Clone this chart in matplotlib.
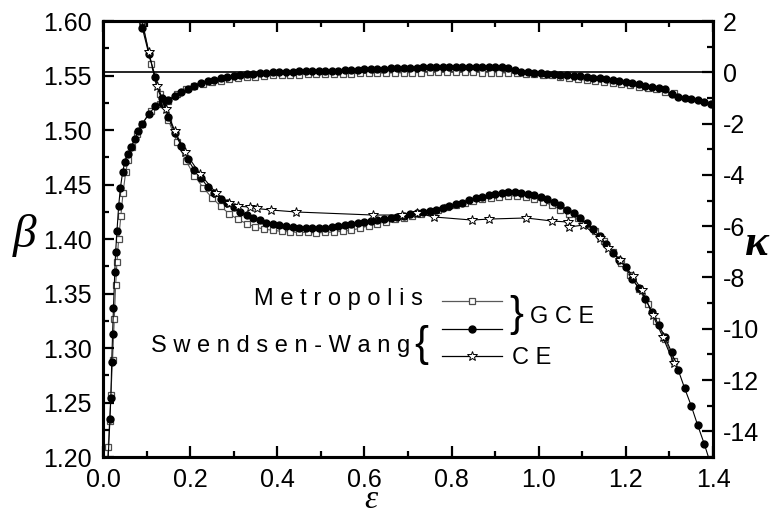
#!/usr/bin/env python3

import matplotlib
matplotlib.use('Agg')
import matplotlib.pyplot as plt
from matplotlib.ticker import MultipleLocator, FormatStrFormatter

# Swendsen-Wang, generalized canonical ensemble (filled circles)
sw_eps = [0.090, 0.105, 0.120, 0.135, 0.150, 0.165, 0.180, 0.195, 0.210, 0.225,
          0.240, 0.255, 0.270, 0.285, 0.300, 0.315, 0.330, 0.345, 0.360, 0.375,
          0.390, 0.405, 0.420, 0.435, 0.450, 0.465, 0.480, 0.495, 0.510, 0.525,
          0.540, 0.555, 0.570, 0.585, 0.600, 0.615, 0.630, 0.645, 0.660, 0.675,
          0.690, 0.705, 0.720, 0.735, 0.750, 0.765, 0.780, 0.795, 0.810, 0.825,
          0.840, 0.855, 0.870, 0.885, 0.900, 0.915, 0.930, 0.945, 0.960, 0.975,
          0.990, 1.005, 1.020, 1.035, 1.050, 1.065, 1.080, 1.095, 1.110, 1.125,
          1.140, 1.155, 1.170, 1.185, 1.200, 1.215, 1.230, 1.245, 1.260, 1.275,
          1.290, 1.305, 1.320, 1.335, 1.350, 1.365, 1.380, 1.395]
sw_beta = [1.594, 1.570, 1.549, 1.529, 1.512, 1.497, 1.485, 1.473, 1.463, 1.456,
           1.448, 1.442, 1.437, 1.433, 1.429, 1.425, 1.422, 1.419, 1.417, 1.415,
           1.414, 1.413, 1.412, 1.411, 1.4105, 1.410, 1.410, 1.410, 1.4102, 1.4108,
           1.4115, 1.4125, 1.4135, 1.4145, 1.4155, 1.4165, 1.4175, 1.4185, 1.4195, 1.4205,
           1.4215, 1.4225, 1.4235, 1.4245, 1.4255, 1.4266, 1.4285, 1.430, 1.4318, 1.4333,
           1.4355, 1.4372, 1.4387, 1.440, 1.4415, 1.4425, 1.443, 1.443, 1.4425, 1.4415,
           1.440, 1.4385, 1.4365, 1.434, 1.431, 1.427, 1.4235, 1.4195, 1.4145, 1.409,
           1.4025, 1.3955, 1.3875, 1.381, 1.374, 1.363, 1.355, 1.345, 1.333, 1.3215,
           1.310, 1.296, 1.280, 1.263, 1.247, 1.229, 1.212, 1.193]
sw_kappa = [-2.02, -1.63, -1.33, -1.20, -1.07, -0.93, -0.78, -0.65, -0.53, -0.43,
            -0.35, -0.29, -0.23, -0.18, -0.14, -0.10, -0.07, -0.05, -0.03, -0.01,
            0.00, 0.01, 0.02, 0.03, 0.04, 0.045, 0.05, 0.055, 0.06, 0.065,
            0.07, 0.08, 0.09, 0.10, 0.11, 0.12, 0.13, 0.14, 0.15, 0.16,
            0.17, 0.18, 0.185, 0.19, 0.195, 0.20, 0.205, 0.21, 0.21, 0.215,
            0.215, 0.215, 0.215, 0.21, 0.21, 0.20, 0.16, 0.08, 0.03, 0.00,
            -0.02, -0.04, -0.06, -0.08, -0.09, -0.11, -0.13, -0.16, -0.18, -0.21,
            -0.23, -0.27, -0.31, -0.35, -0.39, -0.43, -0.47, -0.52, -0.57, -0.62,
            -0.67, -0.85, -0.95, -1.00, -1.04, -1.09, -1.15, -1.24]
# steep start of the kappa curve
sw_eps_low = [0.008, 0.016, 0.018, 0.020, 0.022, 0.024, 0.027, 0.029, 0.032,
              0.036, 0.040, 0.045, 0.050, 0.057, 0.065, 0.073, 0.081]
sw_kappa_low = [-16.5, -13.5, -12.7, -11.3, -10.2, -9.2, -7.8, -7.0, -6.2,
                -5.2, -4.5, -3.9, -3.5, -3.2, -2.9, -2.6, -2.3]

# Metropolis, generalized canonical ensemble (open squares)
met_eps = [0.09, 0.11, 0.13, 0.15, 0.17, 0.19, 0.21, 0.23, 0.25, 0.27,
           0.29, 0.31, 0.33, 0.35, 0.37, 0.39, 0.41, 0.43, 0.45, 0.47,
           0.49, 0.51, 0.53, 0.55, 0.57, 0.59, 0.61, 0.63, 0.65, 0.67,
           0.69, 0.71, 0.73, 0.75, 0.77, 0.79, 0.81, 0.83, 0.85, 0.87,
           0.89, 0.91, 0.93, 0.95, 0.97, 0.99, 1.01, 1.03, 1.05, 1.07,
           1.09, 1.11, 1.13, 1.15, 1.17, 1.19, 1.21, 1.23, 1.25, 1.27,
           1.29, 1.31]
met_beta = [1.601, 1.561, 1.533, 1.509, 1.489, 1.472, 1.458, 1.447, 1.438, 1.430,
            1.423, 1.418, 1.414, 1.411, 1.409, 1.408, 1.407, 1.4065, 1.406, 1.406,
            1.4055, 1.406, 1.4065, 1.407, 1.408, 1.410, 1.412, 1.414, 1.416, 1.418,
            1.419, 1.421, 1.423, 1.425, 1.427, 1.429, 1.431, 1.433, 1.435, 1.4365,
            1.438, 1.439, 1.4395, 1.4395, 1.439, 1.437, 1.434, 1.431, 1.427, 1.423,
            1.419, 1.414, 1.407, 1.398, 1.388, 1.378, 1.367, 1.354, 1.340, 1.325,
            1.308, 1.288]
met_kappa = [-2.00, -1.50, -1.25, -1.10, -0.85, -0.66, -0.53, -0.44, -0.37, -0.32,
             -0.28, -0.24, -0.20, -0.17, -0.14, -0.12, -0.11, -0.10, -0.09, -0.08,
             -0.07, -0.065, -0.06, -0.055, -0.05, -0.045, -0.04, -0.035, -0.03, -0.025,
             -0.02, -0.015, -0.01, -0.005, 0.00, 0.00, 0.00, 0.00, 0.00, -0.01,
             -0.01, -0.02, -0.03, -0.04, -0.05, -0.07, -0.09, -0.12, -0.17, -0.23,
             -0.27, -0.31, -0.35, -0.39, -0.43, -0.47, -0.51, -0.56, -0.61, -0.67,
             -0.75, -0.82]
met_eps_low = [0.007, 0.012, 0.015, 0.018, 0.022, 0.026, 0.029, 0.032, 0.036,
               0.041, 0.046, 0.052, 0.058, 0.066, 0.077]
met_kappa_low = [-16.8, -14.6, -13.6, -12.6, -11.2, -9.6, -8.3, -7.4, -6.5,
                 -5.6, -4.7, -3.9, -3.4, -2.9, -2.4]

# Swendsen-Wang, canonical ensemble (open stars)
ce_eps = [0.089, 0.105, 0.123, 0.145, 0.165, 0.188, 0.222, 0.260, 0.290, 0.310,
          0.337, 0.353, 0.386, 0.443, 0.620, 0.686, 0.721, 0.760, 0.847, 0.886,
          0.971, 1.031, 1.067, 1.070, 1.102, 1.141, 1.159, 1.187, 1.216, 1.237,
          1.262, 1.285, 1.310]
ce_beta = [1.600, 1.572, 1.540, 1.519, 1.499, 1.480, 1.460, 1.442, 1.433, 1.430,
           1.4294, 1.428, 1.4266, 1.4248, 1.422, 1.422, 1.4239, 1.4202, 1.4174, 1.4183,
           1.4193, 1.4165, 1.4156, 1.411, 1.4128, 1.4009, 1.3917, 1.381, 1.366, 1.353,
           1.330, 1.310, 1.286]

sq_style = dict(color='0.35', lw=0.8, marker='s', ms=4.2, mfc='white', mec='0.3', mew=0.9)
dot_style = dict(color='k', lw=0.8, marker='o', ms=5, mfc='k', mec='k')
star_style = dict(color='k', lw=0.8, marker='*', ms=7, mfc='white', mec='k', mew=0.7)

tick_font = {'family': 'Liberation Sans', 'size': 18}
legend_font = {'family': 'Liberation Sans', 'size': 17}


def add_legend(ax):
    tr = ax.transAxes
    x0, x1 = 0.556, 0.654
    xm = (x0 + x1) / 2
    rows = [(0.358, sq_style), (0.294, dot_style), (0.232, star_style)]
    for y, style in rows:
        ax.plot([x0, x1], [y, y], transform=tr, color=style['color'], lw=0.9, clip_on=False)
        st = {k: v for k, v in style.items() if k not in ('color', 'lw')}
        ax.plot([xm], [y], transform=tr, ls='none', clip_on=False, **st)
    ax.text(0.525, 0.362, 'M e t r o p o l i s', transform=tr, ha='right', va='center',
            fontdict=legend_font)
    ax.text(0.503, 0.254, 'S w e n d s e n - W a n g', transform=tr, ha='right', va='center',
            fontdict=legend_font)
    ax.text(0.522, 0.256, '{', transform=tr, ha='center', va='center',
            family='Liberation Sans', size=30)
    ax.text(0.677, 0.326, '}', transform=tr, ha='center', va='center',
            family='Liberation Sans', size=30)
    ax.text(0.700, 0.320, 'G C E', transform=tr, ha='left', va='center', fontdict=legend_font)
    ax.text(0.671, 0.226, 'C E', transform=tr, ha='left', va='center', fontdict=legend_font)


def main():
    plt.rcParams['axes.unicode_minus'] = False
    plt.rcParams['mathtext.fontset'] = 'custom'
    plt.rcParams['mathtext.it'] = 'Liberation Serif:italic'
    plt.rcParams['mathtext.rm'] = 'Liberation Serif'
    plt.rcParams['mathtext.bf'] = 'Liberation Serif:italic:bold'
    fig = plt.figure(figsize=(7.75, 5.15), dpi=100)
    ax = fig.add_axes([0.1329, 0.1126, 0.7871, 0.8466])
    ax2 = ax.twinx()

    # kappa curves on the right axis
    ax2.axhline(0, color='k', lw=1.2)
    ax2.plot(met_eps_low + met_eps, met_kappa_low + met_kappa, **sq_style)
    ax2.plot(sw_eps_low + sw_eps, sw_kappa_low + sw_kappa, **dot_style)

    # beta curves on the left axis
    ax.plot(met_eps, met_beta, **sq_style)
    ax.plot(sw_eps, sw_beta, **dot_style)
    ax.plot(ce_eps, ce_beta, **star_style)

    ax.set_xlim(0, 1.4)
    ax.set_ylim(1.2, 1.6)
    ax2.set_ylim(-15, 2)
    ax.set_zorder(ax2.get_zorder() + 1)
    ax.patch.set_visible(False)

    ax.xaxis.set_major_locator(MultipleLocator(0.2))
    ax.xaxis.set_minor_locator(MultipleLocator(0.1))
    ax.yaxis.set_major_locator(MultipleLocator(0.05))
    ax.yaxis.set_minor_locator(MultipleLocator(0.025))
    ax2.yaxis.set_major_locator(MultipleLocator(2))
    ax2.yaxis.set_minor_locator(MultipleLocator(1))
    ax.xaxis.set_major_formatter(FormatStrFormatter('%.1f'))
    ax.yaxis.set_major_formatter(FormatStrFormatter('%.2f'))
    ax2.yaxis.set_major_formatter(FormatStrFormatter('%d'))

    ax.tick_params(which='both', direction='in', top=True, right=False, width=1.6)
    ax.tick_params(which='major', length=8, pad=8)
    ax.tick_params(which='minor', length=4)
    ax2.tick_params(which='both', direction='in', width=1.6)
    ax2.tick_params(which='major', length=8, pad=7)
    ax2.tick_params(which='minor', length=4)
    for lab in ax.get_xticklabels() + ax.get_yticklabels() + ax2.get_yticklabels():
        lab.set_fontproperties(tick_font)
    for sp in list(ax.spines.values()) + list(ax2.spines.values()):
        sp.set_linewidth(2.2)

    add_legend(ax)

    fig.text(0.032, 0.543, r'$\beta$', ha='center', va='center', size=34)
    fig.text(0.977, 0.530, r'$\mathbf{\kappa}$', ha='center', va='center', size=32)
    fig.text(0.480, 0.029, '$\u03b5$', ha='center', va='center', size=24,
             family='Liberation Serif')

    fig.savefig('out.png', dpi=100)


if __name__ == '__main__':
    main()
